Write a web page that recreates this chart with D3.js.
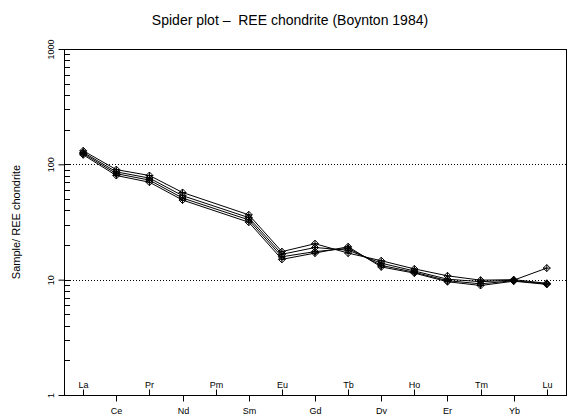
<!DOCTYPE html>
<html>
<head>
<meta charset="utf-8">
<script src="https://cdn.jsdelivr.net/npm/d3@7"></script>
<style>
  body { margin: 0; background: #fff; }
  svg { display: block; font-family: "Liberation Sans", Arial, sans-serif; }
</style>
</head>
<body>
<svg id="chart" width="567" height="414"></svg>
<script>
/* REE elements, in plot order */
const elements = ["La", "Ce", "Pr", "Nd", "Pm", "Sm", "Eu", "Gd", "Tb", "Dy", "Ho", "Er", "Tm", "Yb", "Lu"];

/* chondrite normalised values per sample (Pm missing) */
const sample1 = [131, 90, 80, 57, null, 36.5, 17.5, 20.5, 17.0, 14.6, 12.4, 10.8, 9.9, 10.0, 9.3];
const sample2 = [127, 86, 76, 53.5, null, 34.5, 16.6, 19.0, 18.0, 13.9, 11.9, 10.1, 9.6, 9.9, 12.6];
const sample3 = [124, 83, 73, 51, null, 33, 15.8, 17.5, 18.7, 13.3, 11.6, 9.8, 9.2, 9.8, 9.2];
const sample4 = [121, 80, 70, 49, null, 31.5, 15.0, 17.0, 19.3, 12.9, 11.4, 9.6, 8.9, 9.7, 9.1];

const yTicks = [1, 10, 100, 1000];
const gridValues = [10, 100];

const samples = [sample1, sample2, sample3, sample4];

const svg = d3.select("#chart");

/* plot frame */
const plotLeft = 64, plotRight = 566, plotTop = 49, plotBottom = 395;

var x = d3.scaleLinear()
    .domain([-0.58, elements.length - 1 + 0.58])
    .range([plotLeft, plotRight]);

var y = d3.scaleLog()
    .domain([1, 1000])
    .range([plotBottom, plotTop]);

/* title */
svg.append("text")
    .attr("x", 290)
    .attr("y", 25)
    .attr("text-anchor", "middle")
    .attr("xml:space", "preserve")
    .style("white-space", "pre")
    .style("font-size", "14px")
    .text("Spider plot \u2013  REE chondrite (Boynton 1984)");

/* box */
svg.append("rect")
    .attr("x", plotLeft + 0.5)
    .attr("y", plotTop + 0.5)
    .attr("width", plotRight - plotLeft)
    .attr("height", plotBottom - plotTop)
    .style("fill", "none")
    .style("stroke", "#000")
    .style("stroke-width", 1);

/* dotted reference lines */
svg.selectAll(".grid")
    .data(gridValues)
    .enter()
    .append("line")
    .attr("class", "grid")
    .attr("x1", plotLeft)
    .attr("x2", plotRight)
    .attr("y1", d => Math.round(y(d)) + 0.5)
    .attr("y2", d => Math.round(y(d)) + 0.5)
    .style("stroke", "#000")
    .style("stroke-dasharray", "1,2");

/* y axis: outward major ticks, inward minor ticks */
var yAxis = d3.axisLeft(y)
    .tickValues(yTicks)
    .tickFormat(d3.format("d"))
    .tickSize(6)
    .tickPadding(5);

svg.append("g")
    .attr("class", "yAxis")
    .attr("transform", "translate(" + (plotLeft + 0.5) + ",0)")
    .call(yAxis)
    .call(g => g.select(".domain").remove())
    .call(g => g.selectAll(".tick text")
        .attr("x", 0)
        .attr("dy", 0)
        .attr("transform", "translate(-11,0) rotate(-90)")
        .attr("text-anchor", "middle")
        .style("font-size", "9px")
        .style("font-family", "Liberation Sans, Arial, sans-serif"));

const minorTicks = [];
for (let dec = 1; dec < 1000; dec *= 10) {
    for (let m = 1; m < 10; m++) minorTicks.push(dec * m);
}
minorTicks.push(1000);

svg.selectAll(".minor")
    .data(minorTicks)
    .enter()
    .append("line")
    .attr("class", "minor")
    .attr("x1", plotLeft)
    .attr("x2", plotLeft + 6)
    .attr("y1", d => Math.round(y(d)) + 0.5)
    .attr("y2", d => Math.round(y(d)) + 0.5)
    .style("stroke", "#000");

/* y axis label */
svg.append("text")
    .attr("transform", "translate(20," + ((plotTop + plotBottom) / 2) + ") rotate(-90)")
    .attr("text-anchor", "middle")
    .style("font-size", "11px")
    .text("Sample/ REE chondrite");

/* x axis: alternating up / down ticks */
const xTicks = svg.selectAll(".xtick")
    .data(elements)
    .enter()
    .append("g")
    .attr("class", "xtick")
    .attr("transform", (d, i) => "translate(" + (Math.round(x(i)) + 0.5) + "," + (plotBottom + 0.5) + ")");

xTicks.append("line")
    .attr("y1", 0)
    .attr("y2", (d, i) => i % 2 === 0 ? -6 : 6)
    .style("stroke", "#000");

xTicks.append("text")
    .attr("y", (d, i) => i % 2 === 0 ? -8 : 18)
    .attr("text-anchor", "middle")
    .style("font-size", "9px")
    .text(d => d);

/* sample lines */
var line = d3.line()
    .x(d => x(d.i))
    .y(d => y(d.v));

samples.forEach(s => {
    const pts = s.map((v, i) => ({ i: i, v: v })).filter(p => p.v !== null);
    svg.append("path")
        .datum(pts)
        .attr("class", "lines")
        .attr("d", line)
        .style("fill", "none")
        .style("stroke", "#000")
        .style("stroke-width", 1);

    /* diamond-plus markers */
    svg.selectAll(null)
        .data(pts)
        .enter()
        .append("path")
        .attr("transform", d => "translate(" + x(d.i) + "," + y(d.v) + ")")
        .attr("d", "M0,-3.5L3.5,0L0,3.5L-3.5,0Z M0,-3.5V3.5 M-3.5,0H3.5")
        .style("fill", "none")
        .style("stroke", "#000")
        .style("stroke-width", 1);
});
</script>
</body>
</html>
